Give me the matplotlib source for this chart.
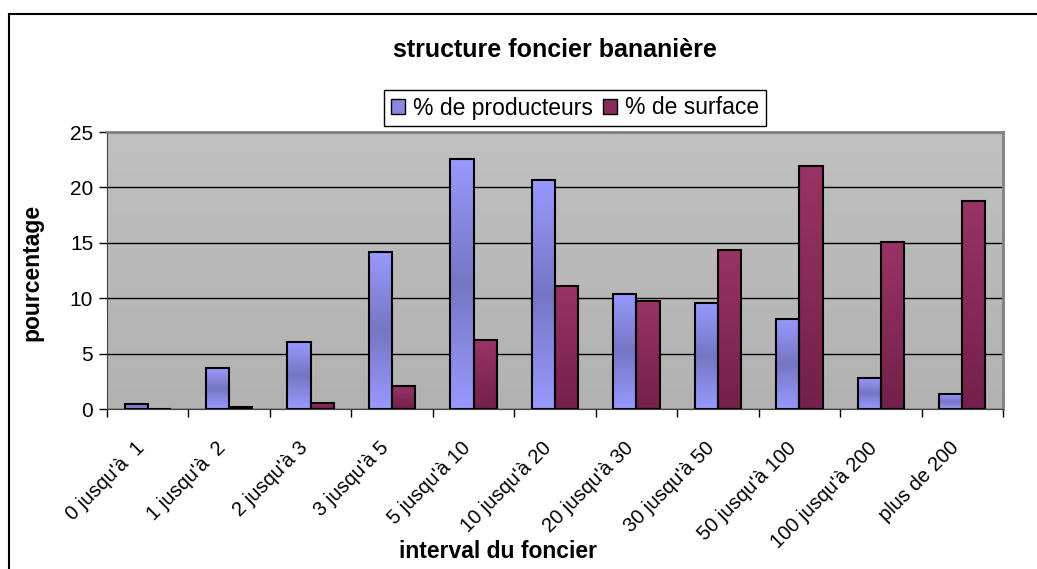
import numpy as np
import matplotlib.pyplot as plt
from matplotlib.colors import LinearSegmentedColormap
from matplotlib.patches import Rectangle
from matplotlib.transforms import ScaledTranslation

plt.rcParams['font.family'] = ['Liberation Sans', 'DejaVu Sans']

# Land size classes (ha) and the two shares in percent
intervals = ["0 jusqu'à  1", "1 jusqu'à  2", "2 jusqu'à 3", "3 jusqu'à 5",
             "5 jusqu'à 10", "10 jusqu'à 20", "20 jusqu'à 30", "30 jusqu'à 50",
             "50 jusqu'à 100", "100 jusqu'à 200", "plus de 200"]
pct_producteurs = [0.45, 3.68, 6.05, 14.2, 22.6, 20.7, 10.4, 9.6, 8.13, 2.84, 1.33]
pct_surface = [0.0, 0.15, 0.57, 2.08, 6.2, 11.1, 9.75, 14.36, 21.9, 15.1, 18.8]

y_ticks = [0, 5, 10, 15, 20, 25]

# Excel-like gradients: lavender darker in the middle, maroon darker at the bottom
cmap_prod = LinearSegmentedColormap.from_list(
    'prod', ['#9999FF', '#7676C4', '#9999FF'])
cmap_surf = LinearSegmentedColormap.from_list(
    'surf', ['#73204A', '#993366'])
cmap_bg = LinearSegmentedColormap.from_list('bg', ['#B2B2B2', '#C0C0C0'])


def gradient_bars(ax, xs, heights, width, cmap):
    grad = np.linspace(0, 1, 256).reshape(-1, 1)
    bars = ax.bar(xs, heights, width=width, facecolor='none',
                  edgecolor='black', linewidth=1.5, zorder=4)
    for bar in bars:
        x0, y0 = bar.get_x(), bar.get_y()
        w, h = bar.get_width(), bar.get_height()
        if h <= 0:
            continue
        im = ax.imshow(grad, cmap=cmap, origin='lower', aspect='auto',
                       extent=(x0, x0 + w, y0, y0 + h), zorder=3)
        im.set_clip_path(bar)
    return bars


fig = plt.figure(figsize=(10.37, 5.69), dpi=100)

# outer chart frame
fig.patches.append(Rectangle((9 / 1037, -0.1), 1.2, 1 - 14 / 569 + 0.1,
                             transform=fig.transFigure, fill=False,
                             edgecolor='black', linewidth=1.5))

ax = fig.add_axes([0.1032, 0.281, 0.8640, 0.487])

# plot area background
bg = np.linspace(0, 1, 256).reshape(-1, 1)
ax.imshow(bg, cmap=cmap_bg, origin='lower', aspect='auto',
          extent=(0, 1, 0, 1), transform=ax.transAxes, zorder=0)

x = np.arange(len(intervals))
w = 0.285
gradient_bars(ax, x - w / 2, pct_producteurs, w, cmap_prod)
gradient_bars(ax, x + w / 2, pct_surface, w, cmap_surf)

ax.set_xlim(-0.5, len(intervals) - 0.5)
ax.set_ylim(0, 25)
ax.set_yticks(y_ticks)
ax.yaxis.grid(True, color='black', linewidth=1)
for line in ax.get_ygridlines():
    line.set_zorder(1)

# ticks between categories, labels at category centres
ax.set_xticks(np.arange(len(intervals) + 1) - 0.5)
ax.set_xticklabels([])
ax.set_xticks(x, minor=True)
ax.set_xticklabels(intervals, minor=True, rotation=45, ha='right',
                   va='top', rotation_mode='anchor', fontsize=14.5)
ax.tick_params(axis='x', which='minor', length=0, pad=21)
ax.tick_params(axis='x', which='major', length=6, direction='out', width=1)
ax.tick_params(axis='y', length=6, direction='out', width=1, labelsize=15,
               pad=4)
shift = ScaledTranslation(-13 / 100, 0, fig.dpi_scale_trans)
for lab in ax.get_xticklabels(minor=True):
    lab.set_transform(lab.get_transform() + shift)

for side in ['top', 'right']:
    ax.spines[side].set_color('#808080')
    ax.spines[side].set_linewidth(2)
ax.spines['left'].set_color('#404040')
ax.spines['bottom'].set_color('#404040')

fig.text(32 / 1037, 1 - 272 / 569, 'pourcentage', fontsize=16.5,
         fontweight='bold', rotation=90, ha='center', va='center')
fig.text(498 / 1037, 1 - 551 / 569, 'interval du foncier', fontsize=16.5,
         fontweight='bold', ha='center', va='center')
fig.text(555 / 1037, 1 - 50 / 569, 'structure foncier bananière',
         fontsize=18, fontweight='bold', ha='center', va='center')

handles = [Rectangle((0, 0), 1, 1, facecolor='#8888E0', edgecolor='black'),
           Rectangle((0, 0), 1, 1, facecolor='#882B5A', edgecolor='black')]
leg = fig.legend(handles, ['% de producteurs', '% de surface'],
                 loc='center', bbox_to_anchor=(575 / 1037, 1 - 108 / 569),
                 ncol=2, fontsize=16.5, frameon=True, fancybox=False,
                 framealpha=1, handlelength=0.6, handleheight=0.6,
                 handletextpad=0.35, columnspacing=0.45, borderpad=0.3,
                 borderaxespad=0)
leg.get_frame().set_edgecolor('black')
leg.get_frame().set_linewidth(1)

fig.savefig('out.png', dpi=100)
